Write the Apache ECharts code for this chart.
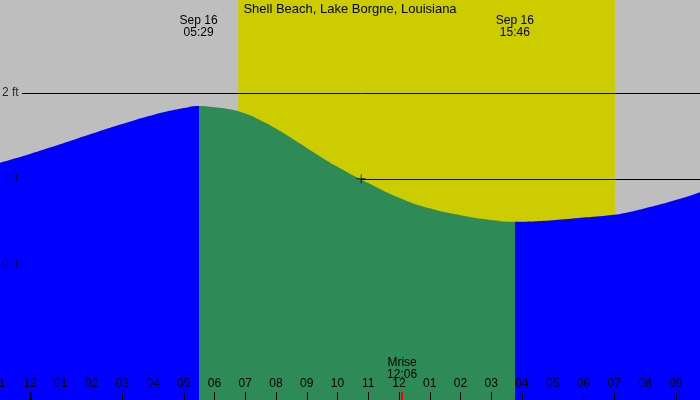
<!DOCTYPE html>
<html>
<head>
<meta charset="utf-8">
<script src="https://cdn.jsdelivr.net/npm/echarts@6/dist/echarts.min.js"></script>
<style>
html,body{margin:0;padding:0;background:#bebebe;}
#c{width:700px;height:400px;}
</style>
</head>
<body>
<div id="c"></div>
<script>
// ---- data ----
const stationTitle = 'Shell Beach, Lake Borgne, Louisiana';
// tide heights (ft) at hours of Sep 16 (negative = previous evening)
const tideHours = [-1, 0, 1, 2, 3, 4, 5, 5.483, 6, 6.5, 7, 7.5, 8, 9, 10, 11, 12, 13, 14, 15, 15.767, 17, 18, 19, 19.5, 20, 21, 22];
const tideFeet  = [1.184, 1.289, 1.405, 1.525, 1.64, 1.745, 1.825, 1.85, 1.835, 1.81, 1.76, 1.68, 1.585, 1.36, 1.14, 0.95, 0.78, 0.655, 0.575, 0.52, 0.50, 0.517, 0.547, 0.58, 0.612, 0.655, 0.752, 0.87];
const highTide = {hour: 5.483, label: 'Sep 16\n05:29'};
const lowTide  = {hour: 15.767, label: 'Sep 16\n15:46'};
const sunrise = 6.77, sunset = 19.02;
const moonrise = {hour: 12.1, label: 'Mrise\n12:06'};
const nowPoint = [10.77, 1.0];
const levelFeet = [0, 1, 2];
const hourTicks = [-1, 22];

// ---- layout helpers ----
const Y_MIN = -1.58, Y_MAX = 3.085;
const X_MIN = hourTicks[0], X_MAX = hourTicks[1];
const PX_PER_FT = 400 / (Y_MAX - Y_MIN);
const FONT = 'Liberation Sans';
const BLUE = '#0000ff', GREEN = '#2e8b57';

function hourLabel(v) {
  let h = ((Math.round(v) % 12) + 12) % 12;
  if (h === 0) h = 12;
  return (h < 10 ? '0' : '') + h;
}
const tickLen = 8 / PX_PER_FT;

const chart = echarts.init(document.getElementById('c'), null, {renderer: 'canvas'});
chart.setOption({
  backgroundColor: '#bebebe',
  animation: false,
  title: {
    text: stationTitle, left: 'center', top: -2,
    textStyle: {fontFamily: FONT, fontSize: 13, fontWeight: 'normal', color: '#000'}
  },
  grid: {left: -0.75, right: -6.5, top: 0, bottom: 0, containLabel: false, outerBoundsMode: 'none'},
  xAxis: {
    type: 'value', min: X_MIN, max: X_MAX, interval: 1, z: 10,
    axisLine: {show: false, onZero: false},
    axisTick: {show: true, inside: true, length: 8, lineStyle: {color: '#000', width: 1}},
    axisLabel: {
      inside: true, margin: 10, color: '#000', fontFamily: FONT, fontSize: 12,
      showMaxLabel: false, formatter: hourLabel
    },
    splitLine: {show: false}
  },
  yAxis: {type: 'value', min: Y_MIN, max: Y_MAX, show: false},
  visualMap: {
    type: 'piecewise', show: false, seriesIndex: 2, dimension: 0,
    pieces: [
      {lt: highTide.hour, color: BLUE},
      {gte: highTide.hour, lte: lowTide.hour, color: GREEN},
      {gt: lowTide.hour, color: BLUE}
    ]
  },
  series: [
    {
      type: 'line', data: [], z: 0, silent: true,
      markArea: {
        silent: true, z: 0,
        itemStyle: {color: '#cccc00'},
        data: [[{xAxis: sunrise}, {xAxis: sunset}]]
      }
    },
    {
      type: 'line', data: [], z: 1, silent: true,
      markLine: {
        silent: true, symbol: 'none', z: 1,
        lineStyle: {color: '#000', width: 1, type: 'solid'},
        label: {show: false},
        data: levelFeet.map(v => [{coord: [-0.26, v]}, {coord: [X_MAX, v]}])
      }
    },
    {
      type: 'line', z: 3, silent: true, smooth: 0.5, symbol: 'none',
      data: tideHours.map((h, i) => [h, tideFeet[i]]),
      lineStyle: {width: 0},
      areaStyle: {opacity: 1, origin: 'start'}
    },
    {
      type: 'scatter', z: 6, silent: true,
      data: levelFeet.map(v => [X_MIN + 0.75 / 30.75, v]),
      symbolSize: 0,
      label: {
        show: true, position: 'right', distance: 2,
        formatter: p => p.value[1] + ' ft',
        color: '#000', fontFamily: FONT, fontSize: 12
      }
    },
    {
      type: 'scatter', z: 7, silent: true,
      data: [nowPoint],
      symbol: 'path://M0,4.5H10V5.5H0ZM4.5,0H5.5V10H4.5Z',
      symbolSize: 9,
      itemStyle: {color: '#000'},
      markLine: {
        silent: true, symbol: 'none', label: {show: false}, z: 8,
        data: [
          [{coord: [0, Y_MIN], lineStyle: {color: '#000', width: 3, type: 'solid'}}, {coord: [0, Y_MIN + tickLen]}],
          [{coord: [moonrise.hour, Y_MIN], lineStyle: {color: '#ff0000', width: 2, type: 'solid'}}, {coord: [moonrise.hour, Y_MIN + tickLen]}]
        ]
      },
      markPoint: {
        silent: true, symbol: 'rect', symbolSize: 0, z: 8,
        label: {
          show: true, color: '#000', fontFamily: FONT, fontSize: 12, lineHeight: 12,
          formatter: p => p.name
        },
        data: [
          {name: highTide.label, coord: [highTide.hour, Y_MAX], label: {position: 'bottom', distance: 15}},
          {name: lowTide.label, coord: [lowTide.hour, Y_MAX], label: {position: 'bottom', distance: 15}},
          {name: moonrise.label, coord: [moonrise.hour, Y_MIN], label: {position: 'top', distance: 19}}
        ]
      }
    }
  ]
});
</script>
</body>
</html>
